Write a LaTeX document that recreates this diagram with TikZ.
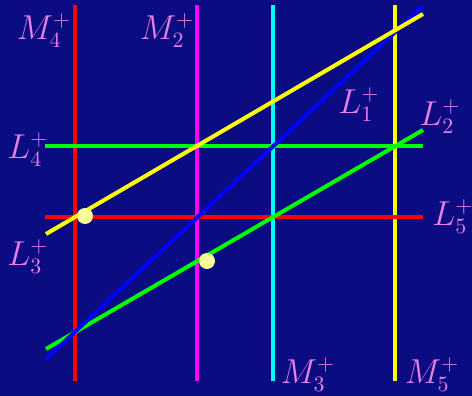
\documentclass[tikz,border=0pt]{standalone}
\usepackage{xcolor}
\usepackage{tikz}
\usetikzlibrary{positioning}
\definecolor{Night}{HTML}{0C0C82}
\definecolor{Orchid}{HTML}{E680E6}
\definecolor{Cream}{HTML}{FFFF99}
\definecolor{PureRed}{HTML}{FF0000}
\definecolor{PureMagenta}{HTML}{FF00FF}
\definecolor{PureCyan}{HTML}{00FFFF}
\definecolor{PureYellow}{HTML}{FFFF00}
\definecolor{PureGreen}{HTML}{00FF00}
\definecolor{PureBlue}{HTML}{0000FF}

\begin{document}
\begin{tikzpicture}[x=0.5pt, y=-0.5pt,
  mline/.style={line width=2pt},
  lline/.style={line width=2pt},
  lbl/.style={text=Orchid, font=\fontsize{16}{19}\selectfont, inner sep=0pt},
  spot/.style={circle, fill=Cream, inner sep=0pt, minimum size=8pt}
]
  \fill[Night] (0,0) rectangle (472,396);
  \useasboundingbox (0,0) rectangle (472,396);

  % end points of the lines
  \coordinate (m4t) at (75,5);   \coordinate (m4b) at (75,381);
  \coordinate (m2t) at (197,5);  \coordinate (m2b) at (197,381);
  \coordinate (m3t) at (273,5);  \coordinate (m3b) at (273,381);
  \coordinate (m5t) at (395,5);  \coordinate (m5b) at (395,381);
  \coordinate (l4l) at (45,146); \coordinate (l4r) at (423,146);
  \coordinate (l5l) at (45,217); \coordinate (l5r) at (423,217);
  \coordinate (l1l) at (46,359); \coordinate (l1r) at (423,6);
  \coordinate (l2l) at (46,349); \coordinate (l2r) at (423,130);
  \coordinate (l3l) at (46,234); \coordinate (l3r) at (423,14);

  \draw[mline, PureRed] (m4t) -- (m4b);
  \draw[mline, PureMagenta] (m2t) -- (m2b);
  \draw[mline, PureCyan] (m3t) -- (m3b);
  \draw[mline, PureYellow] (m5t) -- (m5b);

  \draw[lline, PureGreen] (l4l) -- (l4r);
  \draw[lline, PureRed] (l5l) -- (l5r);
  \draw[lline, PureGreen] (l2l) -- (l2r);
  \draw[lline, PureBlue] (l1l) -- (l1r);
  \draw[lline, PureYellow] (l3l) -- (l3r);

  \node[spot] (p1) at (85,216) {};
  \node[spot] (p2) at (207,261) {};

  \node[lbl] (tm4) at (44,31) {$M_4^+$};
  \node[lbl] (tm2) at (167,31) {$M_2^+$};
  \node[lbl] (tm3) at (308,375) {$M_3^+$};
  \node[lbl] (tm5) at (432,375) {$M_5^+$};
  \node[lbl] (tl1) at (359,105) {$L_1^+$};
  \node[lbl] (tl2) at (440,117) {$L_2^+$};
  \node[lbl] (tl3) at (28,257) {$L_3^+$};
  \node[lbl] (tl4) at (28,150) {$L_4^+$};
  \node[lbl] (tl5) at (453,217) {$L_5^+$};
\end{tikzpicture}
\end{document}
